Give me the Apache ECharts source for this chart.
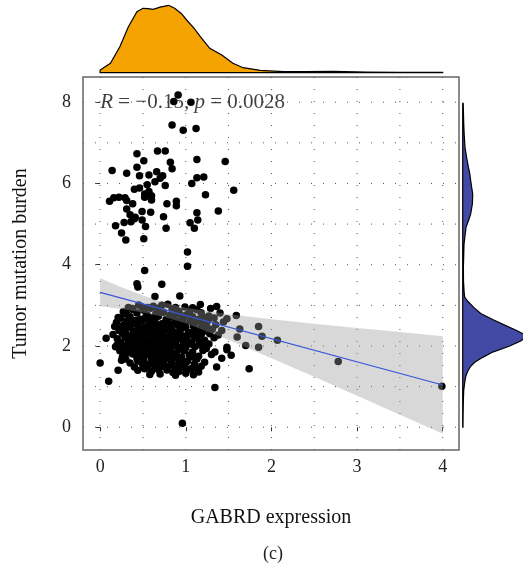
<!DOCTYPE html>
<html><head><meta charset="utf-8">
<script src="https://cdn.jsdelivr.net/npm/echarts@6/dist/echarts.min.js"></script>
<style>html,body{margin:0;padding:0;background:#fff}#c{width:523px;height:569px}</style>
</head><body><div id="c"></div>
<script>
// ---- data ----
const pointsUpper = [
[0.91,8.18],[0.86,8.02],[1.06,8.0],[0.84,7.44],[0.97,7.31],[1.12,7.35],
[0.43,6.73],[0.67,6.80],[0.76,6.80],[0.51,6.56],[0.82,6.52],[1.13,6.59],[1.46,6.54],
[0.14,6.32],[0.31,6.25],[0.43,6.40],[0.84,6.36],[0.46,6.19],[0.57,6.21],[0.66,6.29],[0.73,6.19],[0.70,6.13],[0.64,6.04],[0.55,5.97],[0.76,5.95],[1.13,6.14],[1.21,6.16],[1.07,6.0],[1.56,5.83],[1.23,5.72],[0.40,5.86],[0.46,5.89],[0.57,5.80],[0.52,5.74],[0.60,5.70],
[0.11,5.56],[0.16,5.65],[0.22,5.66],[0.29,5.65],[0.31,5.58],[0.38,5.50],[0.52,5.66],[0.60,5.59],[0.31,5.37],[0.35,5.23],[0.49,5.31],[0.59,5.29],[0.40,5.13],[0.49,5.10],[0.36,5.06],[0.28,5.04],[0.18,4.96],[0.53,4.94],[0.74,5.18],[0.78,5.50],[0.89,5.56],[0.89,5.45],[0.77,4.90],[0.25,4.78],[0.30,4.61],[0.51,4.64],[1.13,5.28],[1.14,5.10],[1.05,5.03],[1.10,4.90],[1.38,5.32],[0.41,5.17],
[1.02,4.31],[1.02,3.96],[0.52,3.86],[0.43,3.53],[0.44,3.45],[0.72,3.52],[0.64,3.22],[0.93,3.23]
];
const pointsOuter = [
[0.0,1.58],[0.10,1.13],[0.07,2.19],[0.20,2.03],[0.21,1.40],[0.25,1.65],[0.26,1.73],[0.44,1.40],[0.52,1.44],[1.34,0.98],[1.74,1.44],[0.96,0.10],[2.78,1.62],[3.99,1.01],
[2.07,2.14],[1.89,2.24],[1.85,2.48],[1.63,2.42],[1.59,2.75],[1.70,2.01],[1.85,1.97],[1.60,2.22],[1.48,1.97],[1.48,1.91],[1.34,1.85],[1.42,1.70],[1.53,1.77],[1.36,1.48],
[1.36,2.97],[1.40,2.81],[1.48,2.67],[1.42,2.38],[1.24,2.46],[1.28,2.30],[1.21,2.71],[1.11,2.58],[1.05,2.87],[0.97,2.67],[0.72,3.00],[0.38,2.92]
];
const pointsCore = [
[0.45,3.01],[0.62,2.98],[0.79,3.03],[0.99,2.96],[1.17,3.02],[0.55,2.95],
[0.38,2.90],[0.51,2.88],[0.59,2.93],[0.70,2.86],[0.84,2.91],[0.92,2.85],[1.13,2.89],[1.29,2.92],[0.27,2.84],
[0.31,2.78],[0.43,2.81],[0.55,2.76],[0.65,2.79],[0.74,2.83],[0.81,2.75],[0.89,2.80],[1.01,2.77],[1.18,2.82],[1.27,2.74],
[0.24,2.68],[0.35,2.72],[0.47,2.66],[0.53,2.71],[0.60,2.69],[0.68,2.73],[0.77,2.65],[0.86,2.70],[0.94,2.64],[1.08,2.72],[1.15,2.66],[1.33,2.69],[0.41,2.63],
[0.19,2.58],[0.31,2.61],[0.39,2.56],[0.49,2.62],[0.57,2.57],[0.64,2.60],[0.72,2.55],[0.79,2.62],[0.88,2.58],[0.98,2.53],[1.05,2.61],[1.19,2.56],[1.26,2.63],[1.44,2.59],[0.44,2.54],[0.83,2.52],
[0.17,2.48],[0.27,2.51],[0.35,2.46],[0.44,2.50],[0.52,2.47],[0.60,2.52],[0.67,2.45],[0.75,2.49],[0.83,2.44],[0.91,2.51],[1.00,2.46],[1.09,2.49],[1.17,2.43],[1.35,2.52],[0.56,2.42],[0.71,2.41],
[0.22,2.38],[0.30,2.41],[0.39,2.36],[0.46,2.40],[0.55,2.35],[0.62,2.39],[0.70,2.34],[0.78,2.40],[0.85,2.36],[0.93,2.38],[1.03,2.33],[1.12,2.39],[1.20,2.35],[1.31,2.41],[0.50,2.32],[0.66,2.31],[0.89,2.31],
[0.15,2.28],[0.26,2.31],[0.34,2.26],[0.42,2.30],[0.50,2.25],[0.58,2.29],[0.65,2.24],[0.73,2.28],[0.80,2.23],[0.88,2.27],[0.96,2.25],[1.05,2.29],[1.14,2.24],[1.38,2.27],[0.46,2.22],[0.62,2.21],[0.77,2.20],[0.99,2.21],
[0.20,2.18],[0.29,2.21],[0.37,2.16],[0.45,2.19],[0.53,2.15],[0.61,2.18],[0.68,2.14],[0.76,2.17],[0.84,2.13],[0.92,2.18],[1.01,2.15],[1.10,2.19],[1.22,2.14],[1.33,2.20],[0.57,2.12],[0.72,2.11],
[0.24,2.08],[0.33,2.11],[0.41,2.06],[0.49,2.10],[0.56,2.05],[0.63,2.09],[0.71,2.04],[0.79,2.08],[0.87,2.03],[0.97,2.07],[1.07,2.04],[1.16,2.09],[1.27,2.05],[0.45,2.02],[0.67,2.01],[0.83,2.00],
[0.18,1.98],[0.27,2.00],[0.36,1.96],[0.44,1.99],[0.52,1.95],[0.60,1.98],[0.67,1.94],[0.75,1.97],[0.82,1.93],[0.90,1.98],[1.00,1.95],[1.11,1.99],[1.24,1.94],[0.56,1.91],[0.71,1.90],
[0.23,1.88],[0.31,1.90],[0.40,1.86],[0.48,1.89],[0.57,1.85],[0.65,1.88],[0.72,1.84],[0.80,1.87],[0.89,1.83],[0.98,1.88],[1.08,1.85],[1.20,1.89],[0.61,1.81],[0.85,1.80],
[0.28,1.78],[0.38,1.80],[0.46,1.76],[0.54,1.79],[0.62,1.75],[0.70,1.78],[0.78,1.74],[0.86,1.77],[0.95,1.73],[1.04,1.78],[1.15,1.75],[1.30,1.79],[0.74,1.71],
[0.30,1.68],[0.43,1.70],[0.51,1.66],[0.60,1.69],[0.68,1.65],[0.76,1.68],[0.84,1.64],[0.93,1.67],[1.02,1.63],[1.13,1.68],
[0.35,1.58],[0.48,1.60],[0.58,1.56],[0.66,1.59],[0.74,1.55],[0.83,1.58],[0.91,1.54],[1.00,1.59],[1.10,1.55],[1.22,1.60],
[0.40,1.48],[0.55,1.50],[0.64,1.46],[0.73,1.49],[0.88,1.45],[0.97,1.48],[1.06,1.44],[1.18,1.50],
[0.60,1.38],[0.78,1.41],[0.92,1.37],[1.02,1.42],[1.15,1.36],
[0.70,1.31],[0.88,1.28],[1.00,1.33],[1.09,1.29],
[0.33,2.95],[0.48,2.97],[0.67,2.93],[0.88,2.95],[1.08,2.94],[0.21,2.70],[0.58,2.64],[0.96,2.74],[1.22,2.67],[0.36,2.55],
[0.69,2.50],[0.95,2.43],[1.25,2.46],[0.24,2.44],[0.54,2.38],[0.82,2.33],[1.08,2.34],[0.31,2.24],[0.69,2.27],[0.93,2.22],
[1.18,2.28],[0.40,2.13],[0.65,2.16],[0.88,2.10],[1.03,2.10],[1.19,2.00],[0.32,2.03],[0.63,2.03],[0.78,1.91],[0.95,1.92],
[0.35,1.84],[0.52,1.83],[0.67,1.72],[0.90,1.71],[1.09,1.72],[0.44,1.63],[0.71,1.61],[0.95,1.60],[0.50,1.53],[0.80,1.50],
[1.13,1.46],[0.68,1.42],[0.85,1.35],[0.58,1.30]
];
const xTicks = [0,1,2,3,4];
const yTicks = [0,2,4,6,8];
const gridXs = [0,0.5,1,1.5,2,2.5,3,3.5,4];
const gridYs = [0,1,2,3,4,5,6,7,8];
const fitX = [0,4];
const fitY = [3.32,1.04];
const bandX  = [0,0.25,0.5,0.75,1,1.5,2,2.5,3,3.5,4];
const bandLo = [2.975,2.909,2.827,2.716,2.559,2.151,1.701,1.24,0.775,0.308,-0.16];
const bandHi = [3.665,3.447,3.243,3.07,2.941,2.779,2.659,2.55,2.445,2.342,2.24];
const topDensX = [0,0.12,0.23,0.33,0.43,0.5,0.56,0.62,0.7,0.8,0.87,0.95,1.01,1.1,1.17,1.28,1.42,1.55,1.67,1.87,2.14,2.4,2.72,3.11,3.5,3.96,4.0];
const topDensY = [0.027,0.094,0.26,0.46,0.61,0.644,0.64,0.634,0.655,0.674,0.644,0.59,0.527,0.44,0.36,0.244,0.177,0.094,0.05,0.024,0.01,0.01,0.014,0.007,0.004,0.004,0.004];
const rightDensY = [0.0,0.3,0.6,0.9,1.1,1.25,1.38,1.5,1.6,1.72,1.85,2.0,2.12,2.25,2.38,2.5,2.65,2.8,2.95,3.1,3.2,3.3,3.6,3.94,4.2,4.5,4.75,4.92,5.1,5.25,5.5,5.74,5.9,6.07,6.25,6.4,6.6,6.89,7.2,7.5,7.97];
const rightDensW = [0.003,0.004,0.006,0.01,0.02,0.03,0.05,0.08,0.12,0.20,0.30,0.47,0.58,0.64,0.54,0.43,0.30,0.18,0.11,0.05,0.02,0.015,0.008,0.007,0.01,0.013,0.025,0.033,0.06,0.08,0.097,0.10,0.09,0.08,0.07,0.057,0.042,0.023,0.015,0.01,0.005];
const annotation = {x:0, y:8};

// ---- chart ----
const SERIF = '"Liberation Serif", "DejaVu Serif", serif';
const chart = echarts.init(document.getElementById('c'), null, {renderer:'canvas'});

function gridRender(params, api){
  if (params.dataIndex !== 0) return;
  const cs = params.coordSys;
  const st = {stroke:'#555', lineWidth:1, lineDash:[1,11]};
  const ch = [];
  gridXs.forEach(v=>{const p=api.coord([v,0]); ch.push({type:'line',shape:{x1:p[0],y1:cs.y,x2:p[0],y2:cs.y+cs.height},style:st});});
  gridYs.forEach(v=>{const p=api.coord([0,v]); ch.push({type:'line',shape:{x1:cs.x,y1:p[1],x2:cs.x+cs.width,y2:p[1]},style:st});});
  return {type:'group', children:ch};
}
function bandRender(params, api){
  if (params.dataIndex !== 0) return;
  const pts = [];
  bandX.forEach((x,i)=>pts.push(api.coord([x,bandHi[i]])));
  for (let i=bandX.length-1;i>=0;i--) pts.push(api.coord([bandX[i],bandLo[i]]));
  return {type:'polygon', shape:{points:pts}, style:{fill:'rgba(153,153,153,0.38)'}};
}
function topDensRender(params, api){
  if (params.dataIndex !== 0) return;
  const pts = [api.coord([topDensX[0],0])];
  topDensX.forEach((x,i)=>pts.push(api.coord([x,topDensY[i]])));
  pts.push(api.coord([topDensX[topDensX.length-1],0]));
  return {type:'polygon', shape:{points:pts}, style:{fill:'#F4A300', stroke:'#000', lineWidth:1.2}};
}
function rightDensRender(params, api){
  if (params.dataIndex !== 0) return;
  const pts = [api.coord([0,rightDensY[0]])];
  rightDensY.forEach((y,i)=>pts.push(api.coord([rightDensW[i],y])));
  pts.push(api.coord([0,rightDensY[rightDensY.length-1]]));
  return {type:'polygon', shape:{points:pts}, style:{fill:'#434AA6', stroke:'#000', lineWidth:1.2}};
}

const allPoints = pointsUpper.concat(pointsOuter, pointsCore);

chart.setOption({
  animation:false,
  backgroundColor:'#fff',
  title:{text:'(c)', left:258, top:540, textStyle:{fontFamily:SERIF, fontSize:18, fontWeight:'normal', color:'#222'}},
  grid:[
    {left:83, right:64, top:77, bottom:119, show:true, borderColor:'#666', borderWidth:1.5, backgroundColor:'transparent'},
    {left:83, right:64, top:0, height:72.7},
    {left:462.7, right:0, top:77, bottom:119}
  ],
  xAxis:[
    {type:'value', gridIndex:0, min:-0.2, max:4.19,
     name:'GABRD expression', nameLocation:'middle', nameGap:58,
     nameTextStyle:{fontFamily:SERIF, fontSize:20, color:'#111'},
     axisLine:{show:false},
     axisTick:{show:true, length:4, customValues:xTicks, lineStyle:{color:'#333', width:1}},
     axisLabel:{customValues:xTicks, fontFamily:SERIF, fontSize:18, color:'#222', margin:8},
     splitLine:{show:false}},
    {type:'value', gridIndex:1, min:-0.2, max:4.19, show:false},
    {type:'value', gridIndex:2, min:0, max:0.603, show:false}
  ],
  yAxis:[
    {type:'value', gridIndex:0, min:-0.56, max:8.62,
     name:'Tumor mutation burden', nameLocation:'middle', nameGap:52,
     nameTextStyle:{fontFamily:SERIF, fontSize:20, color:'#111'},
     axisLine:{show:false},
     axisTick:{show:true, length:4, customValues:yTicks, lineStyle:{color:'#333', width:1}},
     axisLabel:{customValues:yTicks, fontFamily:SERIF, fontSize:18, color:'#222', margin:12},
     splitLine:{show:false}},
    {type:'value', gridIndex:1, min:0, max:0.727, show:false},
    {type:'value', gridIndex:2, min:-0.56, max:8.62, show:false}
  ],
  series:[
    {type:'custom', xAxisIndex:0, yAxisIndex:0, z:1, silent:true, data:[[0,0]], renderItem:gridRender},
    {type:'scatter', xAxisIndex:0, yAxisIndex:0, z:2, symbolSize:7.5, itemStyle:{color:'#000', opacity:1}, data:allPoints},
    {type:'custom', xAxisIndex:0, yAxisIndex:0, z:3, silent:true, data:[[0,0]], renderItem:bandRender},
    {type:'line', xAxisIndex:0, yAxisIndex:0, z:4, showSymbol:false, lineStyle:{color:'#3657D8', width:1.1},
     data:fitX.map((x,i)=>[x,fitY[i]])},
    {type:'scatter', xAxisIndex:0, yAxisIndex:0, z:5, symbolSize:0, silent:true,
     data:[[annotation.x, annotation.y]],
     label:{show:true, position:'right', distance:0, fontFamily:SERIF, fontSize:21, color:'#111',
       formatter:'{i|R} = \u22120.15, {i|p} = 0.0028',
       rich:{i:{fontFamily:SERIF, fontSize:21, fontStyle:'italic', color:'#111'}}}},
    {type:'custom', xAxisIndex:1, yAxisIndex:1, z:2, silent:true, data:[[0,0]], renderItem:topDensRender},
    {type:'custom', xAxisIndex:2, yAxisIndex:2, z:2, silent:true, clip:true, data:[[0,0]], renderItem:rightDensRender}
  ]
});
</script>
</body></html>
